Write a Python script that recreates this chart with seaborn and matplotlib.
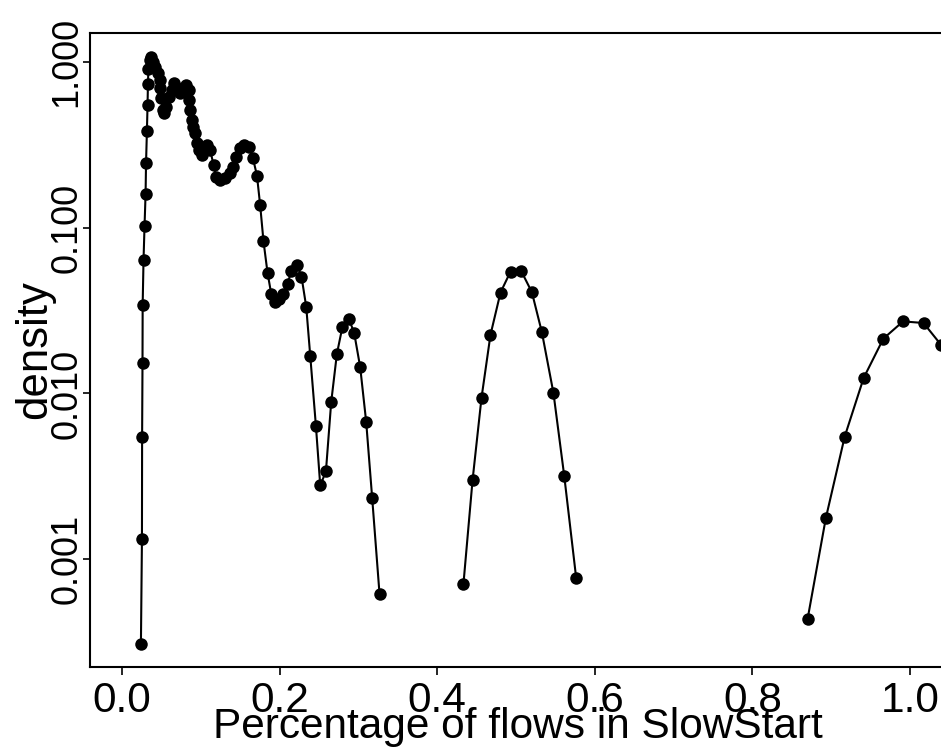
# density of the share of flows in SlowStart, log y axis, three separate pieces
import matplotlib
matplotlib.use("Agg")
import numpy as np
import pandas as pd
import matplotlib.pyplot as plt
import seaborn as sns
from matplotlib.ticker import NullLocator

# =========================================================
# DATA
# =========================================================
x_seg1 = [0.0241, 0.0254, 0.0256, 0.0261, 0.0263, 0.0274, 0.0287, 0.0300, 0.0306,
          0.0317, 0.0325, 0.0330, 0.0336, 0.0350, 0.0368, 0.0393, 0.0422, 0.0457,
          0.0477, 0.0486, 0.0499, 0.0520, 0.0537, 0.0562, 0.0591, 0.0634, 0.0663,
          0.0698, 0.0740, 0.0781, 0.0816, 0.0845, 0.0854, 0.0866, 0.0888, 0.0908,
          0.0930, 0.0951, 0.0972, 0.1015, 0.1078, 0.1120, 0.1162, 0.1196, 0.1247,
          0.1310, 0.1365, 0.1408, 0.1450, 0.1501, 0.1551, 0.1606, 0.1662, 0.1713,
          0.1754, 0.1796, 0.1847, 0.1894, 0.1936, 0.1987, 0.2042, 0.2101, 0.2151,
          0.2220, 0.2278, 0.2338, 0.2389, 0.2461, 0.2516, 0.2588, 0.2655, 0.2727,
          0.2798, 0.2880, 0.2947, 0.3023, 0.3099, 0.3175, 0.3268]
y_seg1 = [0.00031, 0.00133, 0.00546, 0.0152, 0.0342, 0.0637, 0.1028, 0.159, 0.246,
          0.383, 0.546, 0.734, 0.900, 1.02, 1.07, 1.00, 0.933, 0.851,
          0.776, 0.691, 0.602, 0.512, 0.490, 0.536, 0.615, 0.675, 0.741,
          0.691, 0.645, 0.675, 0.724, 0.675, 0.588, 0.512, 0.446, 0.406,
          0.370, 0.322, 0.293, 0.274, 0.315, 0.293, 0.239, 0.203, 0.194,
          0.198, 0.213, 0.233, 0.268, 0.301, 0.315, 0.308, 0.262, 0.206,
          0.136, 0.0828, 0.0535, 0.0399, 0.0358, 0.0369, 0.0399, 0.0458, 0.0551,
          0.0596, 0.0507, 0.0334, 0.0169, 0.00638, 0.00279, 0.00339, 0.00887, 0.0173,
          0.0253, 0.0282, 0.0231, 0.0144, 0.00673, 0.00234, 0.00062]

x_seg2 = [0.4333, 0.4448, 0.4562, 0.4676, 0.4803, 0.4930, 0.5065, 0.5201,
          0.5328, 0.5475, 0.5611, 0.5763]
y_seg2 = [0.000713, 0.00299, 0.00942, 0.0226, 0.0406, 0.0543, 0.0548, 0.0408,
          0.0234, 0.01005, 0.0032, 0.000773]

x_seg3 = [0.870, 0.893, 0.917, 0.941, 0.966, 0.991, 1.017, 1.039]
y_seg3 = [0.00044, 0.00177, 0.0055, 0.0124, 0.0214, 0.0272, 0.0266, 0.0197]

x_ticks = [0.0, 0.2, 0.4, 0.6, 0.8, 1.0]
x_tick_labels = ["0.0", "0.2", "0.4", "0.6", "0.8", "1.0"]
y_ticks = [0.001, 0.01, 0.1, 1.0]
y_tick_labels = ["0.001", "0.010", "0.100", "1.000"]

df = pd.concat([
    pd.DataFrame({"x": x_seg1, "y": y_seg1, "seg": 1}),
    pd.DataFrame({"x": x_seg2, "y": y_seg2, "seg": 2}),
    pd.DataFrame({"x": x_seg3, "y": y_seg3, "seg": 3}),
], ignore_index=True)

# =========================================================
# STYLE
# =========================================================
sns.set_style("white")
plt.rcParams['font.family'] = ['Liberation Sans', 'DejaVu Sans']

fig = plt.figure(figsize=(9.41, 7.52), dpi=100)
ax = fig.add_axes([0.0959, 0.1134, 0.909, 0.8427])

sns.lineplot(data=df, x="x", y="y", units="seg", estimator=None, sort=False,
             color="black", linewidth=1.5, marker="o", markersize=9,
             markeredgecolor="black", markeredgewidth=0, ax=ax, legend=False)

ax.set_yscale("log")
ax.set_xlim(-0.0402, 1.045)
ax.set_ylim(2.254e-4, 1.489)

ax.set_xticks(x_ticks)
ax.set_xticklabels(x_tick_labels, fontsize=30.5)
ax.set_yticks(y_ticks)
ax.set_yticklabels(y_tick_labels, fontsize=26, rotation=90, va="center")
ax.yaxis.set_minor_locator(NullLocator())

ax.tick_params(axis="both", which="major", bottom=True, left=True,
               length=5.4, width=1.2, color="black", labelcolor="black")
ax.tick_params(axis="x", pad=5)
ax.tick_params(axis="y", pad=-1)

for s in ax.spines.values():
    s.set_color("black")
    s.set_linewidth(1.5)

ax.set_xlabel("Percentage of flows in SlowStart", fontsize=30.5, color="black")
ax.set_ylabel("density", fontsize=31.5, color="black")
ax.xaxis.label.set_va("baseline")
ax.xaxis.set_label_coords(0.5, -0.1125)
ax.yaxis.label.set_va("baseline")
ax.yaxis.set_label_coords(-0.0514, 0.5)

fig.savefig("out.png", dpi=100)
